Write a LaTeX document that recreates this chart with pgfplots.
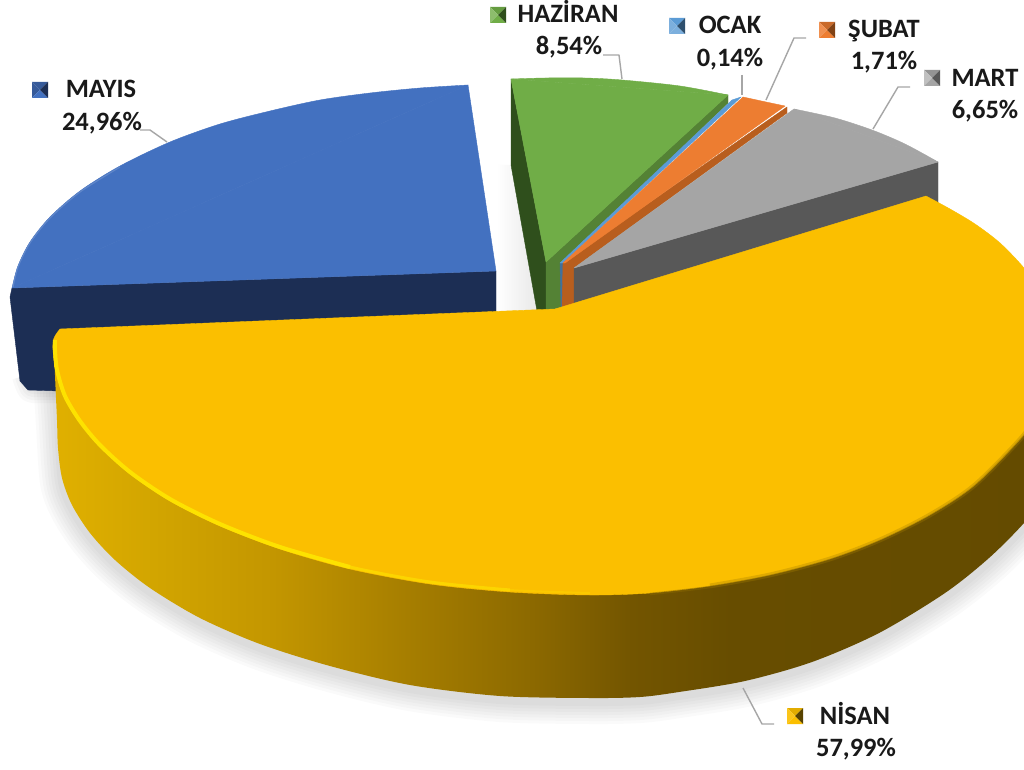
\documentclass[border=0pt]{standalone}
\usepackage{fontspec}
\setmainfont{Carlito}
\usepackage{pgfplots}
\pgfplotsset{compat=1.18}

\definecolor{mayisT}{HTML}{4371C0}
\definecolor{mayisS}{HTML}{1C2E54}
\definecolor{hazT}{HTML}{70AD47}
\definecolor{hazB}{HTML}{548235}
\definecolor{hazS}{HTML}{2F4F1C}
\definecolor{ocakT}{HTML}{5B9BD5}
\definecolor{ocakS}{HTML}{41719C}
\definecolor{subT}{HTML}{ED7D31}
\definecolor{subS}{HTML}{B85E1E}
\definecolor{martT}{HTML}{A5A5A5}
\definecolor{martS}{HTML}{585858}
\definecolor{nisT}{HTML}{FBBF00}
\definecolor{leader}{HTML}{A6A6A6}

% side of the big slice, dark towards the right
\pgfdeclarehorizontalshading{nisanside}{100bp}{
  color(0bp)=(rgb,255:red,224;green,176;blue,0);
  color(25bp)=(rgb,255:red,224;green,176;blue,0);
  color(30bp)=(rgb,255:red,210;green,165;blue,0);
  color(36bp)=(rgb,255:red,195;green,150;blue,0);
  color(43bp)=(rgb,255:red,165;green,125;blue,0);
  color(49bp)=(rgb,255:red,140;green,105;blue,0);
  color(54bp)=(rgb,255:red,115;green,85;blue,0);
  color(59bp)=(rgb,255:red,103;green,77;blue,0);
  color(75bp)=(rgb,255:red,100;green,75;blue,0);
  color(100bp)=(rgb,255:red,100;green,75;blue,0)}

% bevelled legend keys
\newcommand{\keymark}[5]{%
  \pgfdeclareplotmark{#1}{%
    \pgfsetfillcolor{#2}\pgfpathmoveto{\pgfpoint{-8pt}{8pt}}\pgfpathlineto{\pgfpoint{8pt}{8pt}}\pgfpathlineto{\pgfpoint{0pt}{0pt}}\pgfpathclose\pgfusepathqfill
    \pgfsetfillcolor{#3}\pgfpathmoveto{\pgfpoint{-8pt}{8pt}}\pgfpathlineto{\pgfpoint{-8pt}{-8pt}}\pgfpathlineto{\pgfpoint{0pt}{0pt}}\pgfpathclose\pgfusepathqfill
    \pgfsetfillcolor{#4}\pgfpathmoveto{\pgfpoint{-8pt}{-8pt}}\pgfpathlineto{\pgfpoint{8pt}{-8pt}}\pgfpathlineto{\pgfpoint{0pt}{0pt}}\pgfpathclose\pgfusepathqfill
    \pgfsetfillcolor{#5}\pgfpathmoveto{\pgfpoint{8pt}{8pt}}\pgfpathlineto{\pgfpoint{8pt}{-8pt}}\pgfpathlineto{\pgfpoint{0pt}{0pt}}\pgfpathclose\pgfusepathqfill
  }}
\keymark{kMayis}{mayisT!80!black}{mayisT!80!black}{mayisT}{mayisS}
\keymark{kHaz}{hazT!90!black}{hazT!80!white}{hazT}{hazS}
\keymark{kOcak}{ocakT}{ocakT!80!white}{ocakT!80!white}{ocakS!70!black}
\keymark{kSub}{subT!85!black}{subT!85!white}{subT}{subS!70!black}
\keymark{kMart}{martT!90!black}{martT!70!white}{martT}{martS}
\keymark{kNis}{nisT!90!black}{nisT!90!white}{nisT}{nisT!35!black}

\newcommand{\lab}[3]{\node[anchor=base,text=black!90,inner sep=0pt] at (axis cs:#1,#2) {\fontsize{26.5}{30}\selectfont\bfseries #3};}

\begin{document}
\begin{tikzpicture}
\begin{axis}[
    scale only axis, width=1024pt, height=770pt,
    xmin=0, xmax=1024, ymin=0, ymax=770, y dir=reverse,
    hide axis, line join=round,
]
  % white frame, keeps the picture at full size
  \addplot[fill=white, draw=none] coordinates {(0,0) (1024,0) (1024,770) (0,770)} -- cycle;

  % soft shadow under the slices
  \pgfplotsinvokeforeach{44,38,32,26,20,14,8}{
    \addplot[smooth, draw=black, opacity=0.018, line width=#1pt] coordinates {
      (55,375) (58,425) (62,482) (72,509) (90,537) (115,564) (150,592) (200,622) (260,648)
      (330,670) (410,689) (500,700) (590,702) (640,701) (679,696) (745,685) (812,666)
      (879,637) (945,597) (989,562) (1024,527) (1050,494)};
  }
  \pgfplotsinvokeforeach{24,18,12,6}{
    \addplot[smooth, draw=black, opacity=0.025, line width=#1pt] coordinates {(24,376) (30,390) (44,391) (60,391)};
  }
  \addplot[left color=white, right color=black!9, draw=none] coordinates {(497,165) (511,165) (537,312) (497,314)} -- cycle;

  % MAYIS
  \addplot[fill=mayisS, draw=mayisS] coordinates {(12,288) (496,271) (496,325) (60,391) (28,390) (20,381) (10,297)} -- cycle;
  \addplot[fill=mayisT, draw=mayisT] coordinates {(12,288) (496,271) (468,85)} -- cycle;
  \addplot[smooth, fill=mayisT, draw=mayisT] coordinates {(468,85) (420,88) (370,93) (320,100) (270,111) (220,124) (170,142) (120,166) (80,191) (50,217) (30,242) (18,266) (12,288)} -- cycle;
  \addplot[smooth, draw=mayisT!85!white, line width=1.2pt] coordinates {(120,167) (80,192) (50,218) (30,243) (18,267) (13,287)};

  % HAZIRAN
  \addplot[fill=hazS, draw=hazS] coordinates {(511,79) (546,262) (546,310) (537,311) (511,165)} -- cycle;
  \addplot[fill=hazB, draw=hazB] coordinates {(728,95) (728,103) (561,265) (561,308) (546,310) (546,262)} -- cycle;
  \addplot[fill=hazT, draw=hazT] coordinates {(511,79) (728,95) (546,262)} -- cycle;
  \addplot[smooth, fill=hazT, draw=hazT] coordinates {(511,79) (545,78) (585,78) (622,80) (680,86) (728,95)} -- cycle;

  % OCAK
  \addplot[fill=ocakS, draw=ocakS] coordinates {(560,263) (563,263) (566,307) (561,308)} -- cycle;
  \addplot[fill=ocakT, draw=ocakT] coordinates {(732,100) (741,97) (563,263) (560,263)} -- cycle;

  % SUBAT
  \addplot[fill=subS, draw=subS] coordinates {(787,107) (787,113) (574,268) (574,304) (562,307) (563,263)} -- cycle;
  \addplot[fill=subT, draw=subT] coordinates {(743,97) (766,102) (785,106) (565,263) (563,263)} -- cycle;

  % MART
  \addplot[fill=martS, draw=martS] coordinates {(574,268) (938,162) (938,210) (574,310)} -- cycle;
  \addplot[fill=martT, draw=martT] coordinates {(794,109) (938,162) (574,268)} -- cycle;
  \addplot[smooth, fill=martT, draw=martT] coordinates {(794,109) (835,118) (872,130) (905,144) (938,162)} -- cycle;

  % NISAN: side, then top face
  \addplot[smooth, shading=nisanside, draw=none] coordinates {
    (54,340) (55,375) (57,420) (58,448) (62,478) (72,505) (90,533) (115,560) (150,588) (200,618)
    (260,644) (330,666) (410,685) (500,696) (590,698) (640,697) (679,692) (745,681) (812,662)
    (879,633) (945,593) (989,558) (1024,523) (1050,490)}
    -- (axis cs:1050,400) -- (axis cs:70,400) -- cycle;
  \addplot[smooth, fill=nisT, draw=nisT] coordinates {
    (926,196) (950,209) (975,224) (1000,243) (1024,268) (1040,291) (1050,313) (1055,345) (1050,382) (1040,408)
    (1024,435) (975,485) (930,515) (880,540) (830,559) (770,575) (710,586) (650,593) (590,595)
    (510,592) (430,584) (350,569) (280,549) (220,526) (170,501) (130,474) (100,447) (80,423)
    (65,397) (56,371) (53,350) (54,338) (60,329)}
    -- (axis cs:555,309) -- cycle;
  % rim of the top face
  \addplot[smooth, draw=black!45!nisT, opacity=0.25, line width=5pt] coordinates {
    (1055,345) (1050,382) (1040,408) (1024,435) (975,485) (930,515) (880,540) (830,559) (770,575) (710,586)};
  \addplot[smooth, draw=black!45!nisT, opacity=0.45, line width=2.5pt] coordinates {
    (1055,346) (1050,383) (1040,409) (1024,436) (975,486) (930,516) (880,541) (830,560) (770,576) (710,587) (650,594)};
  \addplot[smooth, draw=nisT!85!yellow, line width=2pt] coordinates {(590,593) (510,590) (430,582)};
  \addplot[smooth, draw=nisT!65!yellow, line width=3pt] coordinates {(510,590) (430,582) (350,567) (280,547)};
  \addplot[smooth, draw=nisT!45!yellow, line width=4pt] coordinates {
    (350,567) (280,547) (220,524) (170,499) (130,472) (100,445) (80,421) (65,396) (57,370) (55,350) (55,340)};

  % leader lines
  \addplot[draw=leader, line width=1.4pt] coordinates {(603,55) (619,55) (622,79)};
  \addplot[draw=leader, line width=1.4pt] coordinates {(742,75) (742,95)};
  \addplot[draw=leader, line width=1.4pt] coordinates {(806,38) (794,38) (766,100)};
  \addplot[draw=leader, line width=1.4pt] coordinates {(910,87) (898,87) (873,129)};
  \addplot[draw=leader, line width=1.4pt] coordinates {(140,130) (150,130) (167,142)};
  \addplot[draw=leader, line width=1.4pt] coordinates {(743,688) (762,724) (774,724)};

  % legend keys
  \addplot[only marks, mark=kMayis] coordinates {(40,90)};
  \addplot[only marks, mark=kHaz] coordinates {(498,15)};
  \addplot[only marks, mark=kOcak] coordinates {(677,26)};
  \addplot[only marks, mark=kSub] coordinates {(827,30)};
  \addplot[only marks, mark=kMart] coordinates {(932,78)};
  \addplot[only marks, mark=kNis] coordinates {(795,716)};

  \lab{101}{98}{MAYIS}
  \lab{102}{131}{24,96\%}
  \lab{568}{23}{HAZİRAN}
  \lab{569}{55}{8,54\%}
  \lab{730}{34}{OCAK}
  \lab{730}{67}{0,14\%}
  \lab{884}{38}{ŞUBAT}
  \lab{884}{70}{1,71\%}
  \lab{985}{87}{MART}
  \lab{985}{119}{6,65\%}
  \lab{855}{724}{NİSAN}
  \lab{856}{756}{57,99\%}
\end{axis}
\end{tikzpicture}
\end{document}
